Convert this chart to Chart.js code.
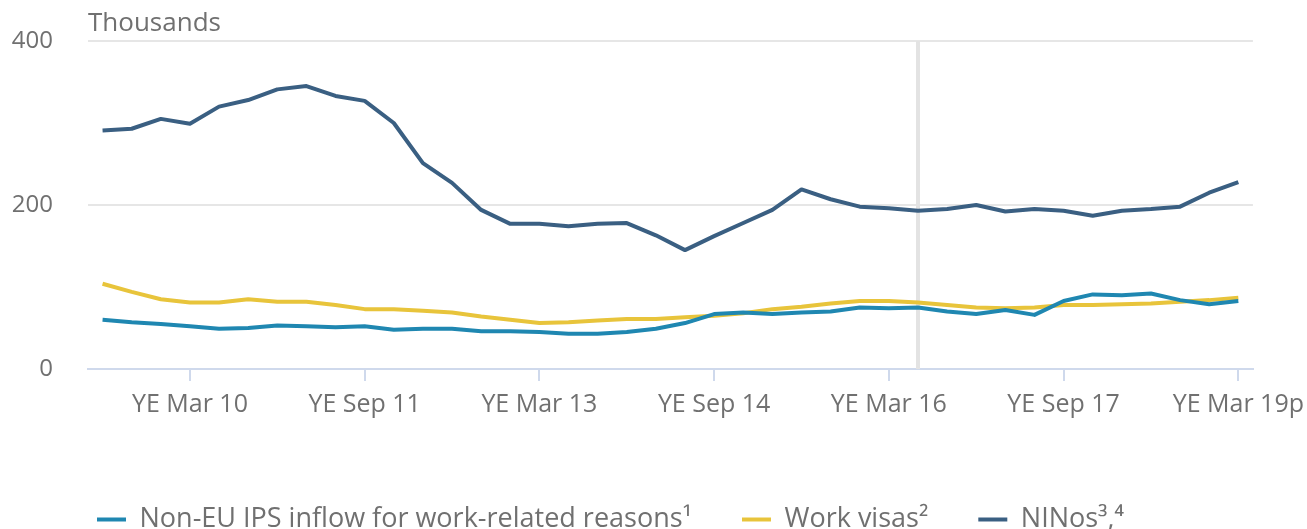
<!DOCTYPE html>
<html>
<head>
<meta charset="utf-8">
<script src="https://cdn.jsdelivr.net/npm/chart.js@4.4.1/dist/chart.umd.min.js"></script>
<style>
  html, body { margin: 0; padding: 0; background: #fff; }
  #wrap { width: 1307px; height: 529px; }
</style>
</head>
<body>
<div id="wrap"><canvas id="chart"></canvas></div>
<script>
// quarters, year ending Jun 09 .. Mar 19
const quarters = [
  'YE Jun 09', 'YE Sep 09', 'YE Dec 09', 'YE Mar 10', 'YE Jun 10', 'YE Sep 10', 'YE Dec 10', 'YE Mar 11',
  'YE Jun 11', 'YE Sep 11', 'YE Dec 11', 'YE Mar 12', 'YE Jun 12', 'YE Sep 12', 'YE Dec 12', 'YE Mar 13',
  'YE Jun 13', 'YE Sep 13', 'YE Dec 13', 'YE Mar 14', 'YE Jun 14', 'YE Sep 14', 'YE Dec 14', 'YE Mar 15',
  'YE Jun 15', 'YE Sep 15', 'YE Dec 15', 'YE Mar 16', 'YE Jun 16', 'YE Sep 16', 'YE Dec 16', 'YE Mar 17',
  'YE Jun 17', 'YE Sep 17', 'YE Dec 17', 'YE Mar 18', 'YE Jun 18', 'YE Sep 18', 'YE Dec 18', 'YE Mar 19p'
];
const shownTicks = ['YE Mar 10', 'YE Sep 11', 'YE Mar 13', 'YE Sep 14', 'YE Mar 16', 'YE Sep 17', 'YE Mar 19p'];
const yTicks = [0, 200, 400];
const breakAt = 'YE Jun 16';
const unitLabel = 'Thousands';

const nonEuIps = [60, 57, 55, 52, 49, 50, 53, 52, 51, 52, 48, 49, 49, 46, 46, 45, 43, 43, 45, 49,
  56, 67, 69, 67, 69, 70, 75, 74, 75, 70, 67, 72, 66, 83, 91, 90, 92, 84, 79, 83];
const workVisas = [104, 94, 85, 81, 81, 85, 82, 82, 78, 73, 73, 71, 69, 64, 60, 56, 57, 59, 61, 61,
  63, 65, 68, 73, 76, 80, 83, 83, 81, 78, 75, 74, 75, 78, 78, 79, 80, 82, 84, 87];
const ninos = [291, 293, 305, 299, 320, 328, 341, 345, 333, 327, 300, 251, 227, 194, 177, 177, 174, 177, 178, 163,
  145, 162, 178, 194, 219, 207, 198, 196, 193, 195, 200, 192, 195, 193, 187, 193, 195, 198, 215, 228];

const textGrey = '#707070';
const family = '"Open Sans", sans-serif';

// grey vertical marker line at the series break + the "Thousands" unit label
const extras = {
  id: 'extras',
  beforeDatasetsDraw(chart) {
    const { ctx, chartArea, scales } = chart;
    const x = scales.x.getPixelForValue(quarters.indexOf(breakAt));
    ctx.save();
    ctx.strokeStyle = '#e3e3e3';
    ctx.lineWidth = 4;
    ctx.beginPath();
    ctx.moveTo(x, chartArea.top);
    ctx.lineTo(x, chartArea.bottom);
    ctx.stroke();
    ctx.fillStyle = textGrey;
    ctx.font = '26px ' + family;
    ctx.textBaseline = 'alphabetic';
    ctx.textAlign = 'left';
    ctx.fillText(unitLabel, chartArea.left, chartArea.top - 10);
    ctx.restore();
  }
};

// legend starts a little right of the y labels, like the original
const legendShift = {
  id: 'legendShift',
  afterLayout(chart) {
    const shift = chart.chartArea.left - 41 - chart.legend.left;
    chart.legend.left += shift;
    chart.legend.right += shift;
  }
};

const line = (label, data, color) => ({
  label, data,
  borderColor: color, backgroundColor: color,
  borderWidth: 4, pointRadius: 0, tension: 0, borderJoinStyle: 'round'
});

new Chart(document.getElementById('chart'), {
  type: 'line',
  data: {
    labels: quarters,
    datasets: [
      line('Non-EU IPS inflow for work-related reasons¹', nonEuIps, '#1f87b1'),
      line('Work visas²', workVisas, '#e8c43b'),
      line('NINos³,⁴', ninos, '#3a5f82')
    ]
  },
  options: {
    responsive: true,
    maintainAspectRatio: false,
    animation: false,
    layout: { padding: { left: 10, right: 0, top: 41, bottom: -14 } },
    plugins: {
      title: { display: false },
      legend: {
        position: 'bottom', align: 'start',
        labels: {
          color: textGrey, font: { family, size: 27 }, boxWidth: 29, boxHeight: 4, padding: 50,
          generateLabels(chart) {
            const items = Chart.defaults.plugins.legend.labels.generateLabels(chart);
            items.forEach((it) => { it.lineWidth = 0; it.fillStyle = it.strokeStyle; });
            return items;
          }
        }
      },
      tooltip: { enabled: false }
    },
    scales: {
      x: {
        offset: true,
        grid: {
          drawOnChartArea: false, drawTicks: true, tickLength: 12, lineWidth: 2,
          color: (c) => (c.tick && shownTicks.includes(quarters[c.tick.value]) ? '#cfd9ec' : 'rgba(0,0,0,0)')
        },
        border: { color: '#cfd9ec', width: 2 },
        // labels pushed down with lineHeight instead of padding, so the right edge stays wide
        ticks: {
          autoSkip: false, maxRotation: 0, color: textGrey, font: { family, size: 25, lineHeight: 1.68 }, padding: 3,
          callback: (v) => (shownTicks.includes(quarters[v]) ? quarters[v] : '')
        },
        afterFit: (s) => { s.height = 87; }
      },
      y: {
        min: 0, max: 400,
        afterBuildTicks: (s) => { s.ticks = yTicks.map((v) => ({ value: v })); },
        grid: { color: '#e6e6e6', lineWidth: 2, drawTicks: false },
        border: { display: false },
        // small lineHeight so the label padding does not push the plot top down
        ticks: { color: textGrey, font: { family, size: 24, lineHeight: 0.2 }, padding: 35 },
        afterFit: (s) => { s.width = 78; }
      }
    }
  },
  plugins: [extras, legendShift]
});
</script>
</body>
</html>
